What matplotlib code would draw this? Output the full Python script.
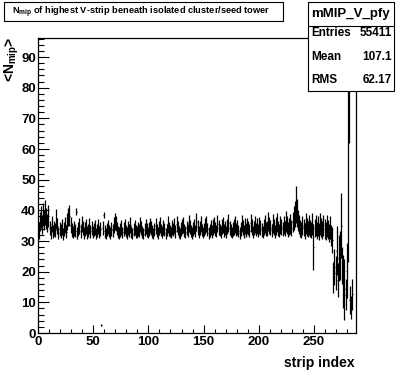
import matplotlib
matplotlib.use('Agg')
import matplotlib.pyplot as plt
import numpy as np
from matplotlib.ticker import MultipleLocator
from matplotlib.patches import Rectangle
from matplotlib.lines import Line2D

plt.rcParams['font.family'] = ['Liberation Sans', 'DejaVu Sans']
plt.rcParams['font.weight'] = 'bold'
plt.rcParams['mathtext.fontset'] = 'custom'
plt.rcParams['mathtext.rm'] = 'Liberation Sans:bold'
plt.rcParams['mathtext.it'] = 'Liberation Sans:bold'
plt.rcParams['mathtext.bf'] = 'Liberation Sans:bold'

# ---- data (profile of <N_mip> per strip, 288 bins) ----
values = [
    33.5, 36.2, 37.8, 35.1, 38.6, 36.9, 39.2, 37.4, 35.8, 38.1,
    34.2, 32.8, 35.6, 33.1, 34.0, 33.5, 37.2, 34.8, 32.6, 33.9,
    33.2, 34.6, 32.4, 33.8, 35.1, 33.0, 36.4, 37.8, 38.3, 35.2,
    33.6, 32.9, 34.1, 33.3, 39.6, 32.7, 33.8, 34.9, 33.1, 35.4,
    34.2, 32.6, 33.9, 34.7, 32.8, 33.5, 35.0, 33.2, 34.1, 32.9,
    33.7, 34.5, 32.5, 33.4, 34.8, 33.0, 33.9, 2.6, 34.3, 38.4,
    33.1, 32.4, 33.8, 34.6, 33.2, 32.7, 34.0, 33.5, 35.2, 36.4,
    35.8, 34.1, 33.0, 32.5, 33.6, 34.4, 32.8, 33.9, 34.7, 33.3,
    32.6, 34.2, 33.5, 35.1, 33.0, 32.3, 33.8, 34.5, 33.1, 32.9,
    34.0, 33.4, 35.3, 34.2, 33.0, 32.4, 33.7, 34.8, 33.6, 32.8,
    33.9, 35.0, 34.3, 33.1, 32.6, 33.8, 34.9, 33.4, 32.7, 34.1,
    35.2, 33.6, 32.9, 34.4, 33.8, 32.5, 33.6, 35.4, 34.0, 33.2,
    32.8, 34.5, 33.7, 34.9, 33.1, 35.6, 34.2, 33.0, 32.6, 33.9,
    34.7, 35.3, 33.5, 32.9, 34.1, 33.4, 35.8, 34.6, 33.2, 32.7,
    33.9, 34.8, 33.3, 36.1, 34.5, 33.0, 34.2, 35.4, 33.6, 32.8,
    33.7, 34.9, 35.5, 33.8, 32.6, 33.4, 34.3, 33.1, 34.6, 35.2,
    34.0, 33.3, 35.7, 34.4, 33.6, 32.9, 34.8, 35.1, 33.5, 34.2,
    33.0, 34.7, 35.9, 34.1, 33.4, 32.8, 33.9, 34.6, 35.3, 33.7,
    34.5, 33.2, 32.7, 34.0, 35.6, 34.3, 33.1, 34.8, 33.6, 35.0,
    34.2, 33.4, 35.8, 34.6, 33.0, 34.1, 35.4, 33.7, 34.9, 33.3,
    35.1, 34.4, 33.6, 32.9, 34.7, 35.5, 33.8, 34.0, 36.2, 35.0,
    34.3, 33.5, 35.7, 34.6, 33.2, 34.9, 36.0, 34.1, 33.4, 35.3,
    34.6, 33.9, 35.2, 34.0, 36.4, 35.1, 33.7, 34.8, 35.6, 34.2,
    36.1, 37.5, 38.8, 42.0, 39.2, 36.7, 35.4, 34.1, 33.6, 35.0,
    34.3, 33.2, 35.8, 34.6, 33.9, 35.2, 34.0, 33.5, 35.6, 28.0,
    34.2, 35.0, 33.4, 34.8, 33.1, 35.5, 34.4, 33.7, 35.1, 34.0,
    33.2, 34.9, 33.8, 32.6, 34.5, 31.8, 30.4, 18.2, 21.5, 19.6,
    26.8, 17.4, 24.6, 25.2, 35.0, 22.1, 16.8, 14.2, 12.5, 20.3,
    130.0, 120.0, 10.8, 8.4, 12.6, np.nan, np.nan, np.nan,
]
errors = [
    2.8, 3.1, 3.5, 2.9, 3.8, 3.2, 4.1, 3.4, 3.0, 3.6,
    2.4, 2.1, 2.7, 2.2, 2.5, 2.3, 3.2, 2.6, 2.0, 2.4,
    2.2, 2.5, 2.0, 2.3, 2.6, 2.1, 2.8, 3.0, 3.3, 2.5,
    2.2, 2.0, 2.4, 2.1, 1.2, 2.0, 2.3, 2.5, 2.1, 2.6,
    2.3, 1.9, 2.2, 2.5, 2.0, 2.2, 2.6, 2.1, 2.3, 2.0,
    2.2, 2.4, 1.9, 2.1, 2.5, 2.0, 2.2, 0.3, 2.3, 1.0,
    2.1, 1.8, 2.2, 2.4, 2.0, 1.9, 2.3, 2.1, 2.5, 2.7,
    2.4, 2.2, 1.9, 2.0, 2.3, 2.5, 1.8, 2.2, 2.4, 2.0,
    1.9, 2.3, 2.1, 2.6, 2.0, 1.8, 2.2, 2.4, 2.0, 1.9,
    2.3, 2.1, 2.5, 2.2, 1.9, 1.8, 2.1, 2.4, 2.2, 1.9,
    2.2, 2.5, 2.3, 2.0, 1.8, 2.2, 2.6, 2.1, 1.9, 2.3,
    2.6, 2.1, 1.9, 2.4, 2.2, 1.8, 2.1, 2.7, 2.3, 2.0,
    1.9, 2.4, 2.1, 2.5, 2.0, 2.7, 2.3, 1.9, 1.8, 2.2,
    2.4, 2.6, 2.1, 1.9, 2.3, 2.0, 2.8, 2.4, 2.0, 1.9,
    2.2, 2.5, 2.0, 2.9, 2.4, 1.9, 2.3, 2.6, 2.1, 1.9,
    2.1, 2.5, 2.7, 2.2, 1.9, 2.0, 2.4, 2.1, 2.5, 2.6,
    2.3, 2.0, 2.8, 2.4, 2.1, 1.9, 2.5, 2.6, 2.1, 2.3,
    2.0, 2.5, 2.9, 2.3, 2.1, 1.9, 2.2, 2.5, 2.7, 2.1,
    2.4, 2.0, 1.9, 2.3, 2.8, 2.4, 2.0, 2.6, 2.2, 2.6,
    2.4, 2.1, 2.9, 2.5, 2.0, 2.3, 2.8, 2.2, 2.6, 2.1,
    2.7, 2.4, 2.2, 2.0, 2.6, 2.9, 2.3, 2.4, 3.1, 2.7,
    2.5, 2.2, 3.0, 2.6, 2.1, 2.8, 3.2, 2.4, 2.2, 2.9,
    2.7, 2.4, 3.0, 2.5, 3.4, 2.9, 2.4, 2.8, 3.2, 2.6,
    3.3, 3.8, 4.2, 6.0, 4.5, 3.4, 3.0, 2.7, 2.5, 3.1,
    2.8, 2.6, 3.4, 2.9, 2.7, 3.3, 2.8, 2.6, 3.5, 7.5,
    3.0, 3.4, 2.8, 3.3, 2.9, 3.6, 3.1, 2.9, 3.5, 3.2,
    3.0, 3.6, 3.2, 3.0, 3.8, 3.5, 4.2, 5.0, 6.0, 5.5,
    8.0, 5.5, 7.5, 8.0, 10.5, 6.0, 8.5, 9.8, 5.0, 9.0,
    107.0, 58.0, 4.5, 3.8, 5.0, np.nan, np.nan, np.nan,
]
x_ticks = [0, 50, 100, 150, 200, 250]
y_ticks = [0, 10, 20, 30, 40, 50, 60, 70, 80, 90]

W, H = 396, 372
def fx(px): return px / W
def fy(py): return 1 - py / H

fig = plt.figure(figsize=(W / 100, H / 100), dpi=100)
fig.patch.set_facecolor('white')
ax = fig.add_axes([fx(38), fy(333), 318 / W, 295 / H])

xc = np.arange(len(values)) + 0.5
ax.errorbar(xc, values, yerr=errors, xerr=0.5, fmt='none', ecolor='black',
            elinewidth=0.9, capsize=0)

ax.set_xlim(0, 288)
ax.set_ylim(0, 96.2)
ax.set_xticks(x_ticks)
ax.set_yticks(y_ticks)
ax.xaxis.set_minor_locator(MultipleLocator(10))
ax.yaxis.set_minor_locator(MultipleLocator(2))
ax.tick_params(axis='both', which='both', direction='in', top=False, right=False,
               width=0.8, labelsize=9.5)
ax.tick_params(axis='x', which='major', length=6, pad=2.5)
ax.tick_params(axis='x', which='minor', length=3)
ax.tick_params(axis='y', which='major', length=8, pad=1.5)
ax.tick_params(axis='y', which='minor', length=4)
for lab in ax.get_xticklabels() + ax.get_yticklabels():
    lab.set_fontweight('bold')
for s in ax.spines.values():
    s.set_linewidth(0.9)

# axis titles
fig.text(fx(355), fy(367), 'strip index', ha='right', va='baseline',
         fontsize=10, fontweight='bold')
fig.text(fx(12), fy(37), r'<N$_{\rm mip}$>', rotation=90, ha='center', va='top',
         fontsize=10, fontweight='bold')

# title box
fig.add_artist(Rectangle((fx(4), fy(21)), (283 - 4) / W, (21 - 2) / H,
                         transform=fig.transFigure, facecolor='white',
                         edgecolor='black', linewidth=0.8))
fig.text(fx(141), fy(12), r'N$_{\rm mip}$ of highest V-strip beneath isolated cluster/seed tower',
         ha='center', va='center', fontsize=6.7, fontweight='bold')

# stats box
fig.add_artist(Rectangle((fx(308), fy(91)), (394 - 308) / W, (91 - 2) / H,
                         transform=fig.transFigure, facecolor='white',
                         edgecolor='black', linewidth=0.8))
fig.add_artist(Line2D([fx(308), fx(394)], [fy(26), fy(26)], transform=fig.transFigure,
                      color='black', linewidth=0.8))
fig.text(fx(351), fy(14), 'mMIP_V_pfy', ha='center', va='center', fontsize=9.5, fontweight='bold')
rows = [('Entries', '55411', 33), ('Mean', '107.1', 57), ('RMS', '62.17', 80)]
for name, val, py in rows:
    fig.text(fx(311), fy(py), name, ha='left', va='center', fontsize=8.5, fontweight='bold')
    fig.text(fx(392), fy(py), val, ha='right', va='center', fontsize=8.5, fontweight='bold')

fig.savefig('out.png', dpi=100, facecolor='white')
